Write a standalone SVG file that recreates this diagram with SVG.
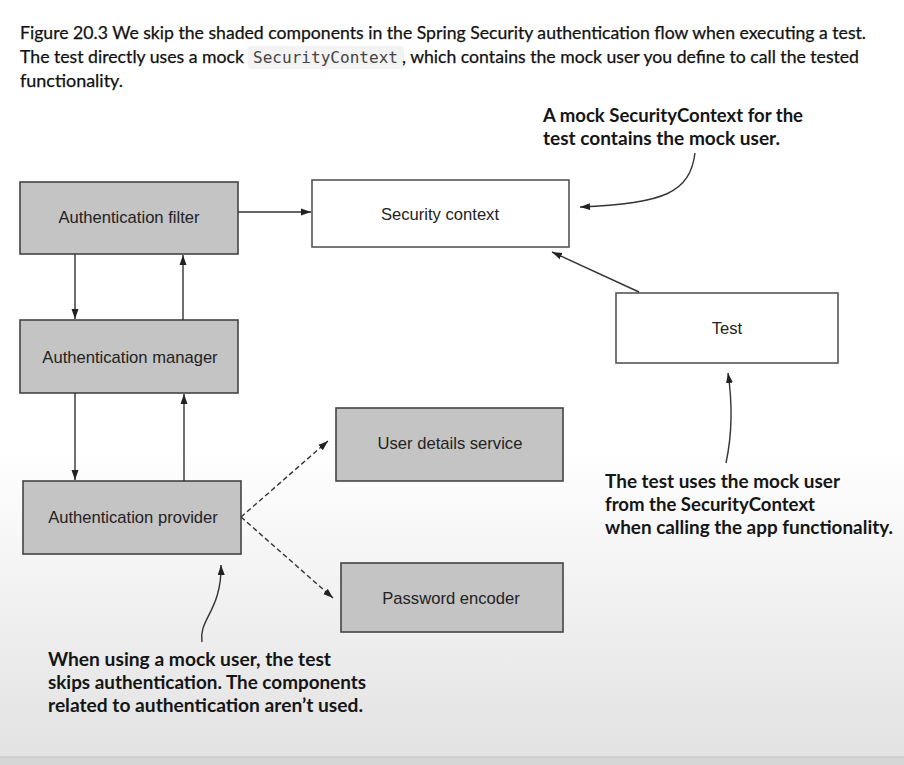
<svg xmlns="http://www.w3.org/2000/svg" width="904" height="765" viewBox="0 0 904 765">
<defs>
<linearGradient id="bg" x1="0" y1="0" x2="0" y2="1">
<stop offset="0" stop-color="#ffffff"/>
<stop offset="0.6" stop-color="#ffffff"/>
<stop offset="1" stop-color="#e2e2e2"/>
</linearGradient>
<marker id="ah" viewBox="0 0 10 10" refX="10" refY="5" markerWidth="10" markerHeight="10" markerUnits="userSpaceOnUse" orient="auto">
<path d="M0,1.5 L10,5 L0,8.5 Z" fill="#222"/>
</marker>
<style>
.cap{font-family:Lato,"Open Sans",sans-serif;font-size:17px;fill:#111;stroke:#111;stroke-width:0.25;}
.mono{font-family:"DejaVu Sans Mono","Liberation Mono",monospace;font-size:15px;fill:#444;}
.shade{fill:#c4c4c4;stroke:#444;stroke-width:1.6;}
.plain{fill:#ffffff;stroke:#555;stroke-width:1.6;}
.lbl{font-family:"Liberation Sans",Arial,sans-serif;font-size:16.6px;fill:#222;text-anchor:middle;}
.note{font-family:Lato,"Open Sans",sans-serif;font-weight:bold;font-size:19px;fill:#151515;}
.ln{fill:none;stroke:#333;stroke-width:1.4;marker-end:url(#ah);}
.dash{fill:none;stroke:#333;stroke-width:1.4;stroke-dasharray:5,3;marker-end:url(#ah);}
</style>
</defs>
<rect x="0" y="0" width="904" height="765" fill="#d6d6d6"/>
<rect x="-10" y="-10" width="924" height="767" rx="8" fill="url(#bg)" stroke="#c4c4c4" stroke-width="1"/>

<g id="caption">
<text class="cap" x="20" y="39" textLength="846" lengthAdjust="spacingAndGlyphs">Figure 20.3 We skip the shaded components in the Spring Security authentication flow when executing a test.</text>
<text class="cap" x="20" y="63" textLength="224" lengthAdjust="spacingAndGlyphs">The test directly uses a mock</text>
<rect x="248" y="46" width="156" height="23" rx="3" fill="#f3f3f3"/>
<text class="mono" x="253" y="63" textLength="145" lengthAdjust="spacingAndGlyphs">SecurityContext</text>
<text class="cap" x="402" y="63" textLength="457" lengthAdjust="spacingAndGlyphs">, which contains the mock user you define to call the tested</text>
<text class="cap" x="20" y="87" textLength="103" lengthAdjust="spacingAndGlyphs">functionality.</text>
</g>

<g id="auth-filter">
<rect class="shade" x="20" y="182" width="218" height="72"/>
<text class="lbl" x="129" y="223">Authentication filter</text>
</g>
<g id="security-context">
<rect class="plain" x="312" y="180" width="257" height="67"/>
<text class="lbl" x="440" y="220">Security context</text>
</g>
<g id="test">
<rect class="plain" x="616" y="293" width="222" height="70"/>
<text class="lbl" x="727" y="334">Test</text>
</g>
<g id="auth-manager">
<rect class="shade" x="20" y="320" width="218" height="73"/>
<text class="lbl" x="130" y="363">Authentication manager</text>
</g>
<g id="auth-provider">
<rect class="shade" x="23" y="481" width="218" height="73"/>
<text class="lbl" x="133" y="523">Authentication provider</text>
</g>
<g id="user-details-service">
<rect class="shade" x="336" y="408" width="227" height="73"/>
<text class="lbl" x="450" y="449">User details service</text>
</g>
<g id="password-encoder">
<rect class="shade" x="341" y="563" width="222" height="69"/>
<text class="lbl" x="451" y="604">Password encoder</text>
</g>

<g id="connectors">
<line class="ln" x1="238" y1="212" x2="311" y2="212"/>
<line class="ln" x1="75" y1="254" x2="75" y2="319"/>
<line class="ln" x1="183" y1="320" x2="183" y2="255"/>
<line class="ln" x1="75" y1="393" x2="75" y2="480"/>
<line class="ln" x1="184" y1="481" x2="184" y2="394"/>
<line class="dash" x1="241" y1="517" x2="328" y2="441"/>
<line class="dash" x1="241" y1="517" x2="333" y2="598"/>
<line class="ln" x1="639" y1="292" x2="552" y2="252"/>
<path class="ln" d="M695,153 C690,192 665,204 580,207"/>
<path class="ln" d="M726,463 C733,430 732,400 728,373"/>
<path class="ln" d="M202,642 C198,620 222,610 221,565"/>
</g>

<g id="notes">
<text class="note" x="543" y="122" textLength="260" lengthAdjust="spacingAndGlyphs">A mock SecurityContext for the</text>
<text class="note" x="543" y="145" textLength="237" lengthAdjust="spacingAndGlyphs">test contains the mock user.</text>
<text class="note" x="605" y="488" textLength="235" lengthAdjust="spacingAndGlyphs">The test uses the mock user</text>
<text class="note" x="605" y="511" textLength="210" lengthAdjust="spacingAndGlyphs">from the SecurityContext</text>
<text class="note" x="605" y="534" textLength="288" lengthAdjust="spacingAndGlyphs">when calling the app functionality.</text>
<text class="note" x="48" y="666" textLength="283" lengthAdjust="spacingAndGlyphs">When using a mock user, the test</text>
<text class="note" x="48" y="689" textLength="318" lengthAdjust="spacingAndGlyphs">skips authentication. The components</text>
<text class="note" x="48" y="712" textLength="315" lengthAdjust="spacingAndGlyphs">related to authentication aren’t used.</text>
</g>
</svg>
